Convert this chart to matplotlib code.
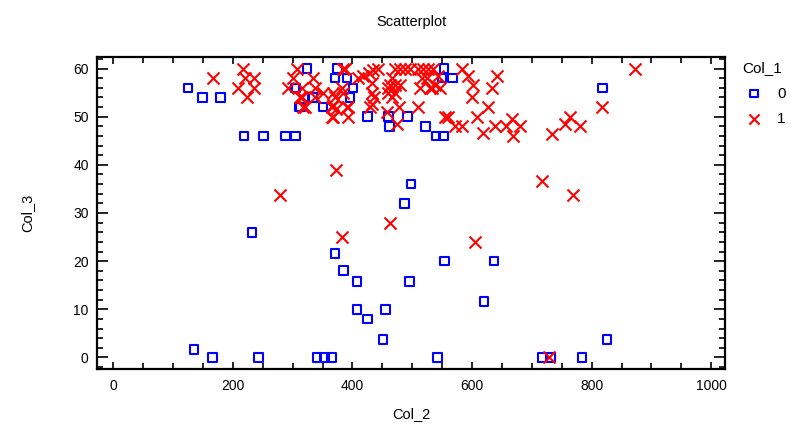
import matplotlib
matplotlib.use("Agg")
import matplotlib.pyplot as plt
from matplotlib.ticker import MultipleLocator

plt.rcParams["font.family"] = ["Liberation Sans", "DejaVu Sans"]

# Col_1 == 0
x0 = [125, 149, 179, 219, 251, 288, 305, 324, 306, 334, 311, 351, 313, 333, 304,
      375, 371, 391, 401, 396, 425, 460, 462, 492, 522, 540, 552, 553, 550, 567, 818,
      498, 487, 232, 371, 385, 408, 495, 554, 637, 620, 408, 455, 425, 451, 826,
      135, 166, 243, 341, 353, 365, 542, 717, 732, 784]
y0 = [56, 54, 54, 46, 46, 46, 46, 60, 56, 54, 52, 52, 52, 54, 56,
      60, 58, 58, 56, 54, 50, 50, 48, 50, 48, 46, 46, 60, 58, 58, 56,
      36, 32, 26, 21.6, 18, 15.8, 15.8, 20, 20, 11.6, 10, 10, 8, 3.7, 3.7,
      1.7, 0, 0, 0, 0, 0, 0, 0, 0, 0]

# Col_1 == 1
x1 = [167, 217, 221, 236, 209, 236, 224,
      308, 301, 293, 316, 313, 338, 316, 351, 321, 318, 334, 338,
      366, 366, 368, 368, 372, 368, 385, 383, 371, 393, 393, 391, 388, 385,
      410, 418, 427, 435, 443, 433, 433, 433, 430, 436,
      472, 480, 488, 497, 466, 463, 471, 479, 460, 471, 478, 475, 466, 458, 460,
      510, 518, 527, 535, 517, 525, 513, 530, 510, 543, 538, 533, 547,
      560, 555, 583, 593, 642, 633, 602, 600, 627, 572, 583, 608, 619, 639,
      656, 667, 669, 681, 734, 756, 764, 781, 818, 873,
      373, 279, 463, 383, 717, 768, 605, 729]
y1 = [58, 60, 58, 58, 56, 56, 54,
      60, 58, 56, 56, 54, 54, 54, 55, 52, 52, 58, 56,
      52, 50, 55, 52.5, 51.5, 50, 55, 56, 54, 52, 50, 52, 60, 60,
      58, 58.5, 59, 59.6, 60, 57, 55, 52.7, 52, 54,
      60, 60, 60, 60, 58, 56.5, 56.5, 56.5, 55, 55, 52, 48.5, 54, 51, 56,
      60, 60, 60, 60, 58, 58, 56, 56, 52, 58.5, 56.5, 56, 56,
      50, 50, 60, 58.5, 58.5, 56, 56.5, 54, 52, 48, 48, 50, 46.7, 48,
      48, 49.6, 46, 48, 46.5, 48.5, 50, 48, 52, 60,
      39, 33.8, 28, 25, 36.7, 33.8, 24, 0]

fig = plt.figure(figsize=(8.1, 4.26), dpi=100)
ax = fig.add_axes([0.1198, 0.1338, 0.7753, 0.7324])

ax.scatter(x0, y0, marker="s", s=38, facecolors="none", edgecolors="#0000ff",
           linewidths=1.5, label="0", zorder=3)
ax.scatter(x1, y1, marker="x", s=75, color="#ff0000", linewidths=1.5,
           label="1", zorder=3)

ax.set_xlim(-27, 1023)
ax.set_ylim(-2.4, 62.4)
ax.xaxis.set_major_locator(MultipleLocator(200))
ax.xaxis.set_minor_locator(MultipleLocator(50))
ax.yaxis.set_major_locator(MultipleLocator(10))
ax.yaxis.set_minor_locator(MultipleLocator(2))

ax.tick_params(axis="both", which="both", direction="in", top=True, right=True,
               width=1.2, labelsize=10, colors="black")
ax.tick_params(axis="x", which="major", length=5, pad=7)
ax.tick_params(axis="x", which="minor", length=4)
ax.tick_params(axis="y", which="major", length=8, pad=6)
ax.tick_params(axis="y", which="minor", length=4)
for sp in ax.spines.values():
    sp.set_linewidth(1.6)

ax.set_xlabel("Col_2", fontsize=10.5, labelpad=10)
ax.set_ylabel("Col_3", fontsize=10.5, labelpad=28)
ax.set_title("Scatterplot", fontsize=10.5, pad=22)

ax.legend(title="Col_1", loc="upper left", bbox_to_anchor=(1.0, 1.03),
          frameon=False, fontsize=11, title_fontsize=11, handletextpad=0.5,
          labelspacing=0.75, markerscale=0.85)

fig.savefig("out.png", dpi=100)
